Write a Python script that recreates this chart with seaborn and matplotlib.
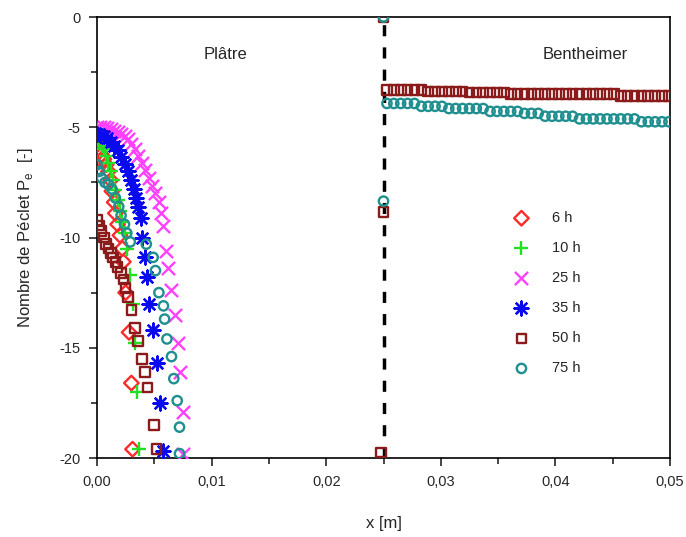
import matplotlib
matplotlib.use("Agg")  # headless
import matplotlib.pyplot as plt
import pandas as pd
import seaborn as sns

# ---- data ------------------------------------------------------------------
# Plâtre side (x < 0.025 m), one x/y list per drying time
h6_x = [0.0000, 0.0002, 0.0004, 0.0006, 0.0008, 0.0010, 0.0012, 0.0013, 0.0015, 0.0016,
        0.0018, 0.0020, 0.0022, 0.0023, 0.0025, 0.0028, 0.0030, 0.0031]
h6_y = [-6.0, -6.1, -6.25, -6.45, -6.7, -7.0, -7.4, -7.9, -8.4, -8.9,
        -9.4, -9.9, -10.5, -11.1, -12.5, -14.3, -16.6, -19.6]

h10_x = [0.0000, 0.0002, 0.0004, 0.0006, 0.0008, 0.0010, 0.0012, 0.0014, 0.0016, 0.0018,
         0.0020, 0.0022, 0.0024, 0.0026, 0.0029, 0.0031, 0.0033, 0.0035, 0.0037]
h10_y = [-5.6, -5.7, -5.85, -6.0, -6.3, -6.6, -7.0, -7.4, -7.85, -8.3,
         -8.8, -9.3, -9.8, -10.5, -11.7, -13.0, -14.8, -17.0, -19.6]

h25_x = [0.0000, 0.0003, 0.0006, 0.0009, 0.0012, 0.0015, 0.0018, 0.0021, 0.0024, 0.0027,
         0.0030, 0.0033, 0.0036, 0.0039, 0.0042, 0.0045, 0.0048, 0.0051, 0.0054, 0.0056,
         0.0058, 0.0060, 0.0062, 0.0065, 0.0068, 0.0071, 0.0072, 0.0075, 0.0075]
h25_y = [-5.0, -5.0, -5.0, -5.05, -5.1, -5.15, -5.2, -5.3, -5.4, -5.55,
         -5.75, -6.0, -6.3, -6.6, -6.95, -7.3, -7.65, -8.0, -8.4, -8.9,
         -9.5, -10.6, -11.4, -12.4, -13.5, -14.8, -16.1, -17.9, -19.8]

h35_x = [0.0000, 0.0003, 0.0006, 0.0009, 0.0012, 0.0015, 0.0018, 0.0021, 0.0024, 0.0027,
         0.0030, 0.0032, 0.0034, 0.0036, 0.0038, 0.0039, 0.0042, 0.0044, 0.0045, 0.0049,
         0.0052, 0.0055, 0.0058]
h35_y = [-5.3, -5.35, -5.4, -5.5, -5.65, -5.85, -6.05, -6.35, -6.65, -7.0,
         -7.4, -7.8, -8.2, -8.6, -9.1, -10.0, -10.9, -11.8, -13.0, -14.2,
         -15.7, -17.5, -19.7]

h50_x = [0.0000, 0.0002, 0.0004, 0.0006, 0.0008, 0.0010, 0.0012, 0.0014, 0.0016, 0.0018,
         0.0021, 0.0023, 0.0025, 0.0027, 0.0030, 0.0033, 0.0036, 0.0039, 0.0042, 0.0044,
         0.0050, 0.0052]
h50_y = [-9.2, -9.45, -9.7, -10.0, -10.3, -10.5, -10.7, -10.9, -11.1, -11.35,
         -11.6, -11.9, -12.3, -12.7, -13.3, -14.1, -14.7, -15.5, -16.1, -16.8,
         -18.5, -19.6]

h75_x = [0.0000, 0.0002, 0.0004, 0.0007, 0.0010, 0.0013, 0.0016, 0.0019, 0.0021, 0.0024,
         0.0026, 0.0029, 0.0043, 0.0049, 0.0051, 0.0054, 0.0058, 0.0059, 0.0061, 0.0065,
         0.0067, 0.0070, 0.0072, 0.0072]
h75_y = [-6.7, -7.0, -7.3, -7.5, -7.6, -7.8, -8.2, -8.6, -9.0, -9.4,
         -9.8, -10.2, -10.3, -10.9, -11.5, -12.5, -13.1, -13.7, -14.6, -15.4,
         -16.4, -17.4, -18.6, -19.8]

# points sitting on the interface
h50_iface_x = [0.0250, 0.0250, 0.0248]
h50_iface_y = [0.0, -8.85, -19.75]
h75_iface_x = [0.0250, 0.0250]
h75_iface_y = [0.0, -8.35]

# Bentheimer side (only 50 h and 75 h are visible there)
bent_x = [0.0253, 0.0259, 0.0265, 0.0271, 0.0277, 0.0283, 0.0289, 0.0295, 0.0301, 0.0307,
          0.0313, 0.0319, 0.0325, 0.0331, 0.0337, 0.0343, 0.0349, 0.0355, 0.0361, 0.0367,
          0.0373, 0.0379, 0.0385, 0.0391, 0.0397, 0.0403, 0.0409, 0.0415, 0.0421, 0.0427,
          0.0433, 0.0439, 0.0445, 0.0451, 0.0457, 0.0463, 0.0469, 0.0475, 0.0481, 0.0487,
          0.0493, 0.0499]
bent50_y = [-3.30] * 6 + [-3.37] * 6 + [-3.42] * 6 + [-3.48] * 16 + [-3.57] * 8
bent75_y = ([-3.92] * 5 + [-4.05] * 4 + [-4.15] * 6 + [-4.28] * 5 + [-4.37] * 3
            + [-4.50] * 5 + [-4.62] * 9 + [-4.75] * 5)

series_labels = ["6 h", "10 h", "25 h", "35 h", "50 h", "75 h"]
x_interface = 0.025

x_ticks = [0.00, 0.01, 0.02, 0.03, 0.04, 0.05]
x_ticklabels = ["0,00", "0,01", "0,02", "0,03", "0,04", "0,05"]
y_ticks = [0, -5, -10, -15, -20]
y_ticklabels = ["0", "-5", "-10", "-15", "-20"]

# ---- long-form table -------------------------------------------------------
xs = [h6_x, h10_x, h25_x, h35_x,
      h50_x + h50_iface_x + bent_x, h75_x + h75_iface_x + bent_x]
ys = [h6_y, h10_y, h25_y, h35_y,
      h50_y + h50_iface_y + bent50_y, h75_y + h75_iface_y + bent75_y]
df = pd.concat(
    [pd.DataFrame({"x": x, "pe": y, "temps": lab}) for x, y, lab in zip(xs, ys, series_labels)],
    ignore_index=True,
)

# ---- style -------------------------------------------------------------------
sns.set_style("ticks")
plt.rcParams["font.family"] = ["Liberation Sans", "DejaVu Sans"]
plt.rcParams["font.size"] = 10

colors = ["#ff2a2a", "#22e022", "#ff40ff", "#0a0aee", "#8b1a1a", "#1f8f8f"]
markers = ["D", "+", "x", (8, 2, 0), "s", "o"]
sizes = [55, 100, 90, 100, 48, 45]
filled = [False, True, True, True, False, False]

fig = plt.figure(figsize=(6.86, 5.37), dpi=100)
ax = fig.add_axes([0.1414, 0.1471, 0.8353, 0.8212])

for lab, c, m, s, line_art in zip(series_labels, colors, markers, sizes, filled):
    sub = df[df["temps"] == lab]
    sns.scatterplot(
        data=sub, x="x", y="pe", ax=ax, marker=m, s=s, color=c,
        facecolor=c if line_art else "none", edgecolor=c,
        linewidth=1.7, label=lab, zorder=3,
    )

ax.axvline(x_interface, color="black", lw=2.5, ls=(0, (3.2, 3.2)), zorder=2)

ax.text(0.0112, -1.7, "Plâtre", ha="center", va="center", fontsize=12)
ax.text(0.0426, -1.7, "Bentheimer", ha="center", va="center", fontsize=12)

ax.set_xlim(0, 0.05)
ax.set_ylim(-20, 0)
ax.set_xticks(x_ticks)
ax.set_xticklabels(x_ticklabels)
ax.set_yticks(y_ticks)
ax.set_yticklabels(y_ticklabels)
ax.set_xticks([0.005, 0.015, 0.025, 0.035, 0.045], minor=True)
ax.set_yticks([-2.5, -7.5, -12.5, -17.5], minor=True)
ax.tick_params(which="major", direction="out", length=6, width=1.2, labelsize=10.5, pad=6)
ax.tick_params(which="minor", direction="out", length=4, width=1.2)
for sp in ax.spines.values():
    sp.set_visible(True)
    sp.set_linewidth(1.2)
    sp.set_color("black")

ax.set_xlabel("x [m]", fontsize=12, labelpad=20)
ax.set_ylabel(r"Nombre de Péclet P$_\mathregular{e}$  [-]", fontsize=12, labelpad=17)

leg = ax.legend(
    loc="upper left", bbox_to_anchor=(0.728, 0.56), frameon=False,
    handlelength=1.0, handletextpad=1.6, borderpad=0, borderaxespad=0,
    labelspacing=1.1, fontsize=10.5,
)

fig.savefig("out.png", dpi=100)
plt.close(fig)
